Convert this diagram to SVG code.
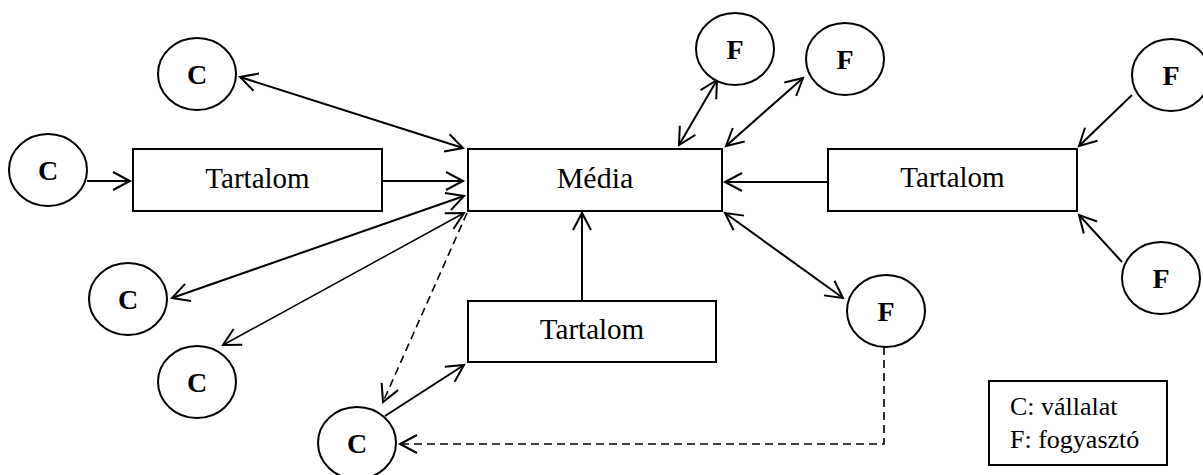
<svg xmlns="http://www.w3.org/2000/svg" width="1203" height="475" viewBox="0 0 1203 475">
<style>
.nd{fill:#fff;stroke:#000;stroke-width:2}
.lbl{font-family:"Liberation Serif","Times New Roman",serif;fill:#000;text-anchor:middle}
.cf{font-size:28px;font-weight:bold}
.box{font-size:29px}
.leg{font-family:"Liberation Serif","Times New Roman",serif;font-size:26px;fill:#000}
.ln{stroke:#000;stroke-width:2;fill:none}
.thin{stroke-width:1.5}
.dash{stroke-width:1.6;stroke-dasharray:8 5}
</style>
<defs>
<marker id="ah" markerUnits="userSpaceOnUse" markerWidth="22" markerHeight="22" refX="19" refY="11" orient="auto-start-reverse" overflow="visible">
<path d="M2,2 L19,11 L2,20" fill="none" stroke="#000" stroke-width="2"/>
</marker>
</defs>
<rect width="1203" height="475" fill="#fff"/>
<g id="connectors">
<line class="ln" x1="240" y1="77" x2="463" y2="148" marker-start="url(#ah)" marker-end="url(#ah)"/>
<line class="ln" x1="87" y1="181" x2="130" y2="181" marker-end="url(#ah)"/>
<line class="ln" x1="382" y1="181" x2="463" y2="181" marker-end="url(#ah)"/>
<line class="ln" x1="172" y1="298" x2="464" y2="196" marker-start="url(#ah)" marker-end="url(#ah)"/>
<line class="ln thin" x1="223" y1="345" x2="464" y2="213" marker-start="url(#ah)" marker-end="url(#ah)"/>
<line class="ln dash" x1="467" y1="213" x2="383" y2="402" marker-end="url(#ah)"/>
<line class="ln" x1="385" y1="416" x2="464" y2="365" marker-end="url(#ah)"/>
<line class="ln" x1="582" y1="301" x2="582" y2="213" marker-end="url(#ah)"/>
<line class="ln" x1="717" y1="80" x2="679" y2="145" marker-start="url(#ah)" marker-end="url(#ah)"/>
<line class="ln" x1="803" y1="78" x2="726" y2="146" marker-start="url(#ah)" marker-end="url(#ah)"/>
<line class="ln" x1="828" y1="182" x2="725" y2="182" marker-end="url(#ah)"/>
<line class="ln" x1="1132" y1="95" x2="1079" y2="146" marker-end="url(#ah)"/>
<line class="ln" x1="1122" y1="262" x2="1079" y2="215" marker-end="url(#ah)"/>
<line class="ln" x1="725" y1="213" x2="843" y2="298" marker-start="url(#ah)" marker-end="url(#ah)"/>
<polyline class="ln dash" points="884,347 884,444 400,444" marker-end="url(#ah)"/>
</g>
<g id="media"><rect class="nd" x="468" y="149" width="254" height="62"/><text class="lbl" x="595" y="188" font-size="30">Média</text></g>
<g id="tartalom-left"><rect class="nd" x="133" y="149" width="249" height="62"/><text class="lbl box" x="257.5" y="188">Tartalom</text></g>
<g id="tartalom-right"><rect class="nd" x="828" y="149" width="249" height="62"/><text class="lbl box" x="952.5" y="187">Tartalom</text></g>
<g id="tartalom-bottom"><rect class="nd" x="468" y="301" width="248" height="61"/><text class="lbl box" x="592" y="339">Tartalom</text></g>
<g id="c1"><ellipse class="nd" cx="197" cy="74" rx="39" ry="36"/><text class="lbl cf" x="197" y="84">C</text></g>
<g id="c2"><ellipse class="nd" cx="48" cy="170" rx="39" ry="36"/><text class="lbl cf" x="48" y="180">C</text></g>
<g id="c3"><ellipse class="nd" cx="128" cy="299" rx="39" ry="36"/><text class="lbl cf" x="128" y="309">C</text></g>
<g id="c4"><ellipse class="nd" cx="197" cy="382" rx="39" ry="36"/><text class="lbl cf" x="197" y="392">C</text></g>
<g id="c5"><ellipse class="nd" cx="357" cy="443" rx="39" ry="36"/><text class="lbl cf" x="357" y="453">C</text></g>
<g id="f1"><ellipse class="nd" cx="735" cy="49" rx="39" ry="36"/><text class="lbl cf" x="735" y="59">F</text></g>
<g id="f2"><ellipse class="nd" cx="845" cy="59" rx="39" ry="36"/><text class="lbl cf" x="845" y="69">F</text></g>
<g id="f3"><ellipse class="nd" cx="1171" cy="75" rx="39" ry="36"/><text class="lbl cf" x="1171" y="85">F</text></g>
<g id="f4"><ellipse class="nd" cx="1161" cy="278" rx="39" ry="36"/><text class="lbl cf" x="1161" y="288">F</text></g>
<g id="f5"><ellipse class="nd" cx="886" cy="311" rx="39" ry="36"/><text class="lbl cf" x="886" y="321">F</text></g>
<g id="legend"><rect class="nd" x="989" y="381" width="178" height="84"/><text class="leg" x="1010" y="415">C: vállalat</text><text class="leg" x="1010" y="448">F: fogyasztó</text></g>
</svg>
